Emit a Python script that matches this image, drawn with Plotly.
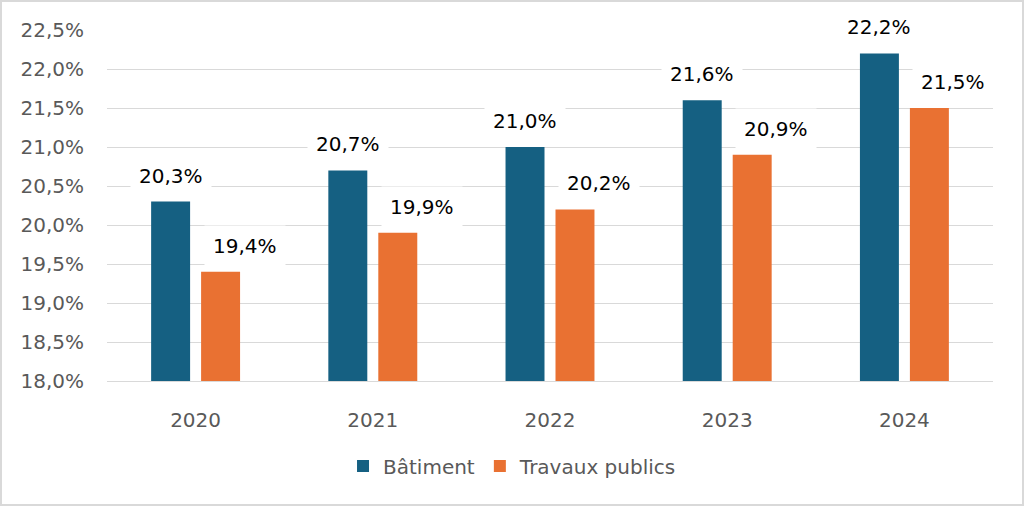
import plotly.graph_objects as go

# Part des ... par année (en %)
years = ["2020", "2021", "2022", "2023", "2024"]
batiment = [20.3, 20.7, 21.0, 21.6, 22.2]
travaux_publics = [19.4, 19.9, 20.2, 20.9, 21.5]

# name, values, colour, label offset in px from the group centre
series = [
    ("Bâtiment", batiment, "#156082", -25),
    ("Travaux publics", travaux_publics, "#E97132", 49),
]

FONT = "DejaVu Sans"
GREY = "#595959"
SIZE = 20

fig = go.Figure()

for name, values, color, shift in series:
    fig.add_trace(go.Bar(
        x=years,
        y=values,
        name=name,
        marker=dict(color=color, line=dict(width=0)),
        hovertemplate="%{x}<br>%{y:.1f}%<extra>" + name + "</extra>",
    ))
    # value labels with white box (covers the gridlines like in Excel)
    # x is the category index (numeric-looking strings would be read as numbers)
    for i, v in enumerate(values):
        fig.add_annotation(
            x=i, y=v,
            text=f"{v:.1f}".replace(".", ",") + "%",
            showarrow=False,
            xshift=shift, yshift=5,
            yanchor="bottom",
            bgcolor="white",
            borderpad=8,
            font=dict(family=FONT, size=SIZE, color="black"),
        )

fig.update_layout(
    barmode="group",
    bargap=0.436,
    bargroupgap=0.22,
    separators=", ",
    width=1024,
    height=507,
    margin=dict(l=107, r=31, t=30, b=126),
    plot_bgcolor="white",
    paper_bgcolor="white",
    font=dict(family=FONT, size=SIZE, color=GREY),
    showlegend=True,
    legend=dict(
        orientation="h",
        x=0.4577, xanchor="center",
        y=-0.242, yanchor="middle",
        font=dict(family=FONT, size=SIZE, color=GREY),
        itemwidth=30,
        traceorder="normal",
    ),
)

fig.update_yaxes(
    range=[18, 22.5],
    dtick=0.5,
    tickformat=".1f",
    ticksuffix="%",
    showgrid=True,
    gridcolor="#d9d9d9",
    gridwidth=1,
    zeroline=False,
    showline=False,
    ticks="",
    ticklabelstandoff=22,
)
fig.update_xaxes(
    type="category",
    range=[-0.5, len(years) - 0.5],
    showgrid=False,
    showline=True,
    linecolor="#d9d9d9",
    linewidth=1,
    ticks="",
    ticklabelstandoff=21,
)

# light grey frame around the whole chart
fig.add_shape(
    type="rect",
    xref="paper", yref="paper",
    x0=-106 / 886, x1=916 / 886,
    y0=-124 / 351, y1=380 / 351,
    line=dict(color="#d9d9d9", width=2),
    fillcolor="rgba(0,0,0,0)",
    layer="below",
)

# drop the default body margin so the chart sits at the window's corner
fig.write_html(
    "out.html",
    config={"displayModeBar": False},
    post_script="document.body.style.margin='0';",
)
